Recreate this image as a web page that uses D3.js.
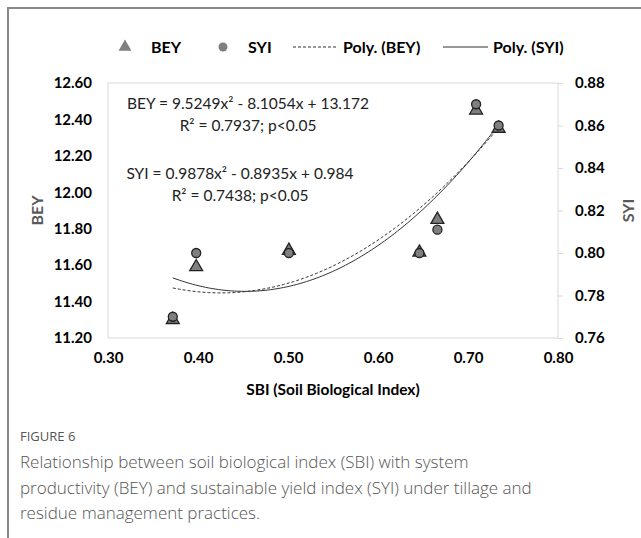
<!DOCTYPE html>
<html><head><meta charset="utf-8">
<script src="https://cdn.jsdelivr.net/npm/d3@7"></script>
<style>body{margin:0;background:#fff}svg{display:block}</style>
</head><body>
<svg id="c" width="641" height="538"></svg>
<script>
// Data
const sbi = [0.372, 0.398, 0.501, 0.646, 0.666, 0.709, 0.734];
const bey = [11.30, 11.59, 11.68, 11.67, 11.85, 12.45, 12.35];
const syi = [0.770, 0.800, 0.800, 0.800, 0.811, 0.870, 0.860];
const beyCoef = [9.5249, -8.1054, 13.172];
const syiCoef = [0.9878, -0.8935, 0.984];
const xTicks = [0.30, 0.40, 0.50, 0.60, 0.70, 0.80];
const yLeftTicks = [11.20, 11.40, 11.60, 11.80, 12.00, 12.20, 12.40, 12.60];
const yRightTicks = [0.76, 0.78, 0.80, 0.82, 0.84, 0.86, 0.88];
const legendItems = ["BEY", "SYI", "Poly. (BEY)", "Poly. (SYI)"];
const eqBEY = ["BEY = 9.5249x² - 8.1054x + 13.172", "R² = 0.7937; p<0.05"];
const eqSYI = ["SYI = 0.9878x² - 0.8935x + 0.984", "R² = 0.7438; p<0.05"];
const captionTitle = "FIGURE 6";
const captionLines = ["Relationship between soil biological index (SBI) with system",
  "productivity (BEY) and sustainable yield index (SYI) under tillage and",
  "residue management practices."];

const svg = d3.select("#c");
const F = "Lato, 'Open Sans', sans-serif";
const L = 108, R = 558, T = 83, B = 338;
const x = d3.scaleLinear().domain([0.30, 0.80]).range([L, R]);
const yL = d3.scaleLinear().domain([11.20, 12.60]).range([B, T]);
const yR = d3.scaleLinear().domain([0.76, 0.88]).range([B, T]);

// outer frame
svg.append("path").attr("d", "M8,538 L8,8 L641,8").attr("fill", "none")
  .attr("stroke", "#8a8a8a").attr("stroke-width", 2);

// plot area border
svg.append("rect").attr("x", L).attr("y", T).attr("width", R - L).attr("height", B - T)
  .attr("fill", "none").attr("stroke", "#d9d9d9").attr("stroke-width", 1);

// left axis
const axL = d3.axisLeft(yL).tickValues(yLeftTicks).tickFormat(d3.format(".2f")).tickSize(0).tickPadding(16);
const gL = svg.append("g").attr("transform", `translate(${L},0)`).call(axL);
gL.select(".domain").remove();
gL.selectAll("text").attr("font-family", F).attr("font-weight", "bold").attr("font-size", 15).attr("fill", "#000");

// right axis
const axR = d3.axisRight(yR).tickValues(yRightTicks).tickFormat(d3.format(".2f")).tickSize(5).tickPadding(12);
const gR = svg.append("g").attr("transform", `translate(${R},0)`).call(axR);
gR.select(".domain").remove();
gR.selectAll("line").attr("stroke", "#d9d9d9");
gR.selectAll("text").attr("font-family", F).attr("font-weight", "bold").attr("font-size", 15).attr("fill", "#000");

// bottom axis
const axB = d3.axisBottom(x).tickValues(xTicks).tickFormat(d3.format(".2f")).tickSize(0).tickPadding(14);
const gB = svg.append("g").attr("transform", `translate(0,${B})`).call(axB);
gB.select(".domain").remove();
gB.selectAll("text").attr("font-family", F).attr("font-weight", "bold").attr("font-size", 15).attr("fill", "#000");

// axis titles
svg.append("text").attr("transform", `translate(43,${(T + B) / 2}) rotate(-90)`)
  .attr("text-anchor", "middle").attr("font-family", F).attr("font-weight", "bold")
  .attr("font-size", 16).attr("fill", "#595959").text("BEY");
svg.append("text").attr("transform", `translate(634,${(T + B) / 2}) rotate(-90)`)
  .attr("text-anchor", "middle").attr("font-family", F).attr("font-weight", "bold")
  .attr("font-size", 16).attr("fill", "#595959").text("SYI");
svg.append("text").attr("x", (L + R) / 2).attr("y", 395).attr("text-anchor", "middle")
  .attr("font-family", F).attr("font-weight", "bold").attr("font-size", 15.5).attr("fill", "#000")
  .text("SBI (Soil Biological Index)");

// trendlines
const xmin = d3.min(sbi), xmax = d3.max(sbi);
const xs = d3.range(0, 101).map(i => xmin + (xmax - xmin) * i / 100);
const poly = (c, v) => c[0] * v * v + c[1] * v + c[2];
svg.append("path").datum(xs)
  .attr("d", d3.line().x(v => x(v)).y(v => yL(poly(beyCoef, v))))
  .attr("fill", "none").attr("stroke", "#333").attr("stroke-width", 1).attr("stroke-dasharray", "3,2");
svg.append("path").datum(xs)
  .attr("d", d3.line().x(v => x(v)).y(v => yR(poly(syiCoef, v))))
  .attr("fill", "none").attr("stroke", "#333").attr("stroke-width", 1);

// markers
const tri = d3.symbol().type(d3.symbolTriangle).size(72);
svg.append("g").selectAll("path").data(sbi).join("path")
  .attr("d", tri).attr("transform", (d, i) => `translate(${x(d)},${yL(bey[i])})`)
  .attr("fill", "#7f7f7f").attr("stroke", "#222").attr("stroke-width", 1.3);
svg.append("g").selectAll("circle").data(sbi).join("circle")
  .attr("cx", d => x(d)).attr("cy", (d, i) => yR(syi[i])).attr("r", 4.5)
  .attr("fill", "#7f7f7f").attr("stroke", "#222").attr("stroke-width", 1.3);

// equations
function eq(lines, cx, y0) {
  lines.forEach((t, i) => {
    svg.append("text").attr("x", cx).attr("y", y0 + i * 22).attr("text-anchor", "middle")
      .attr("font-family", F).attr("font-size", 15.5).attr("fill", "#222").text(t);
  });
}
eq(eqBEY, 248, 109);
eq(eqSYI, 240, 179);

// legend
const ly = 47;
const lg = svg.append("g").attr("font-family", F).attr("font-weight", "bold").attr("font-size", 16);
lg.append("path").attr("d", d3.symbol().type(d3.symbolTriangle).size(72)).attr("transform", `translate(125,${ly})`).attr("fill", "#7f7f7f");
lg.append("text").attr("x", 151).attr("y", ly + 6).text(legendItems[0]);
lg.append("circle").attr("cx", 223).attr("cy", ly).attr("r", 4.5).attr("fill", "#7f7f7f");
lg.append("text").attr("x", 248).attr("y", ly + 6).text(legendItems[1]);
lg.append("line").attr("x1", 293).attr("x2", 338).attr("y1", ly).attr("y2", ly).attr("stroke", "#333").attr("stroke-dasharray", "3,2");
lg.append("text").attr("x", 343).attr("y", ly + 6).text(legendItems[2]);
lg.append("line").attr("x1", 443).attr("x2", 488).attr("y1", ly).attr("y2", ly).attr("stroke", "#333");
lg.append("text").attr("x", 493).attr("y", ly + 6).text(legendItems[3]);

// caption
svg.append("text").attr("x", 20).attr("y", 441).attr("font-family", "'Open Sans', sans-serif")
  .attr("font-size", 13).attr("fill", "#555").text(captionTitle);
captionLines.forEach((t, i) => {
  svg.append("text").attr("x", 20).attr("y", 468 + i * 25.5).attr("font-family", "'Open Sans', sans-serif")
    .attr("font-weight", 300).attr("font-size", 17).attr("fill", "#555").text(t);
});
</script>
</body></html>
